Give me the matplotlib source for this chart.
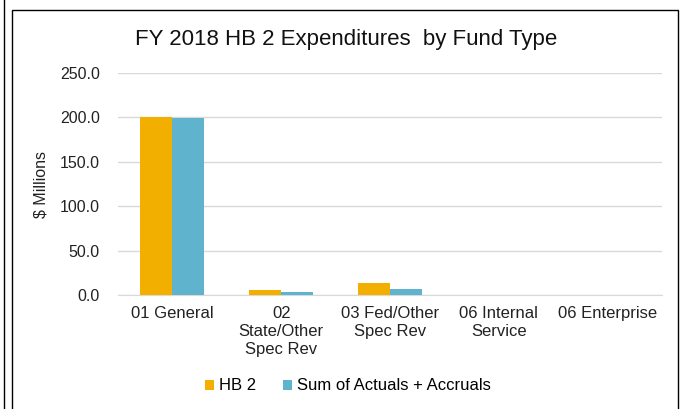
import matplotlib.pyplot as plt
import numpy as np
from matplotlib.patches import Rectangle
from matplotlib.lines import Line2D

categories = ["01 General", "02\nState/Other\nSpec Rev", "03 Fed/Other\nSpec Rev",
              "06 Internal\nService", "06 Enterprise"]
hb2 = [201.0, 5.6, 13.5, 0.5, 0.3]
actuals = [199.0, 3.7, 7.1, 0.4, 0.3]

plt.rcParams['font.family'] = ['Liberation Sans', 'DejaVu Sans']

fig = plt.figure(figsize=(6.86, 4.09), dpi=100)
ax = fig.add_axes([118/686, 1-295/409, 544/686, 222/409])

x = np.arange(len(categories))
w = 0.295
ax.bar(x - w/2, hb2, w, color="#F2AF00", label="HB 2", zorder=3)
ax.bar(x + w/2, actuals, w, color="#5FB3CC", label="Sum of Actuals + Accruals", zorder=3)

ax.set_xlim(-0.5, len(categories) - 0.5)
ax.set_ylim(0, 250)
ax.set_yticks(np.arange(0, 251, 50))
ax.set_yticklabels([f"{v:.1f}" for v in np.arange(0, 251, 50)], fontsize=11.5, color="#222222")
ax.set_xticks(x)
ax.set_xticklabels(categories, fontsize=12, color="#222222", linespacing=1.25)
ax.tick_params(axis="y", length=0, pad=13)
ax.tick_params(axis="x", length=0, pad=8)
ax.grid(axis="y", color="#d9d9d9", linewidth=1, zorder=0)
for s in ["top", "right", "left"]:
    ax.spines[s].set_visible(False)
ax.spines["bottom"].set_color("#d9d9d9")
ax.set_ylabel("$ Millions", fontsize=11.5, color="#222222", labelpad=8)

fig.text(346/686, 1-40/409, "FY 2018 HB 2 Expenditures  by Fund Type", ha="center", va="center",
         fontsize=16, color="#111111")

fig.legend(loc="center", bbox_to_anchor=(348/686, 1-386/409), ncol=2, frameon=False,
           fontsize=12, handlelength=0.55, handleheight=0.55, columnspacing=1.6, handletextpad=0.3)

fig.patches.append(Rectangle((12/686, -0.05), 666/686, 1.05 - 10/409, transform=fig.transFigure,
                             fill=False, edgecolor="black", linewidth=1))
fig.lines.append(Line2D([4/686, 4/686], [0, 1], transform=fig.transFigure, color="black", linewidth=1))

fig.savefig("out.png", dpi=100)
